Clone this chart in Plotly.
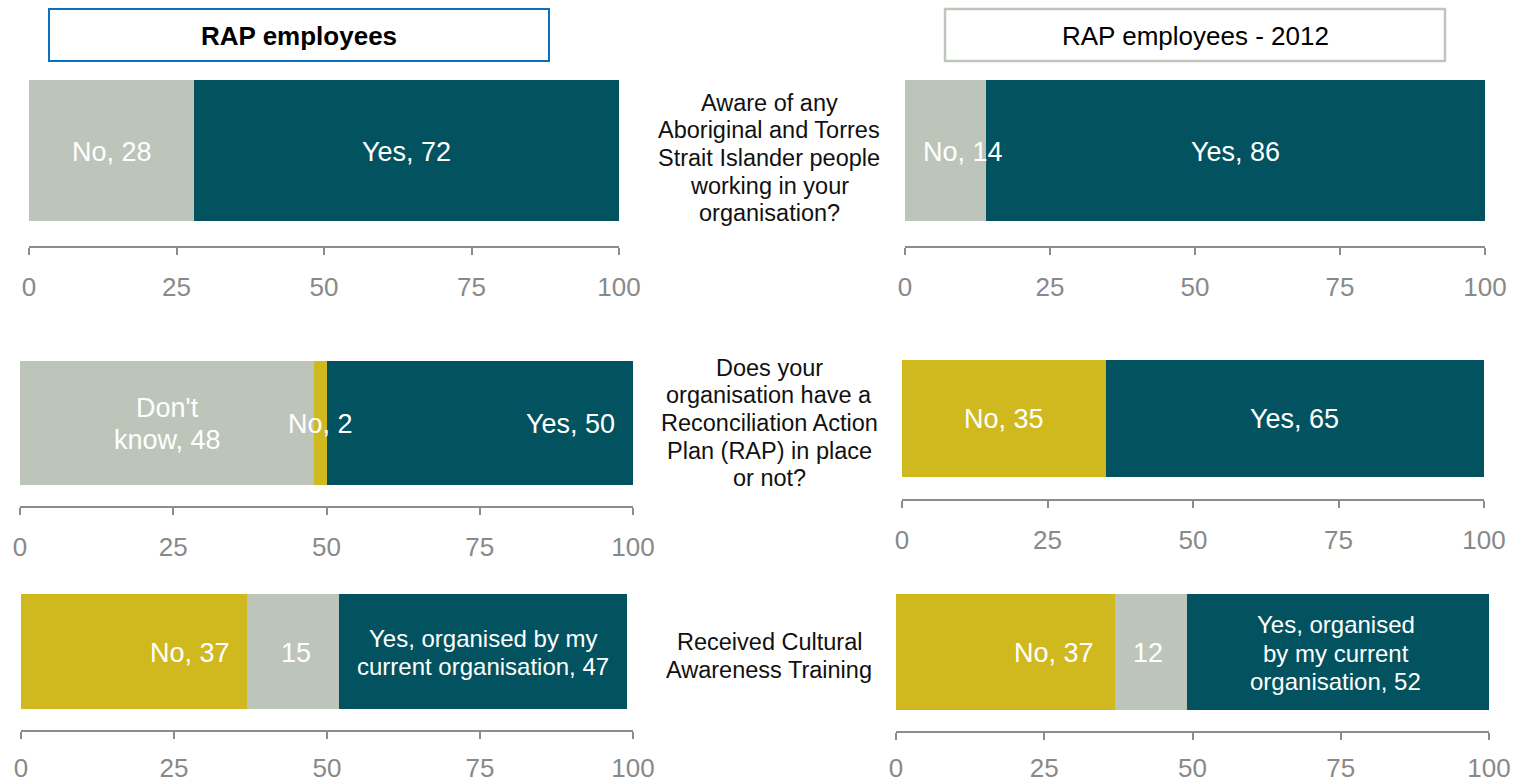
import plotly.graph_objects as go

W, H = 1522, 784
FONT = "Liberation Sans, Arial, Helvetica, sans-serif"
GRAY = "#BDC5BB"
TEAL = "#02535F"
GOLD = "#D0B91F"
AXIS = "#8C8C8C"
TICK_TEXT = "#898989"

# ---- data -------------------------------------------------------------
panel_titles = ["RAP employees", "RAP employees - 2012"]

questions = [
    "Aware of any\nAboriginal and Torres\nStrait Islander people\nworking in your\norganisation?",
    "Does your\norganisation have a\nReconciliation Action\nPlan (RAP) in place\nor not?",
    "Received Cultural\nAwareness Training",
]

tick_values = [0, 25, 50, 75, 100]

aware_current = [28, 72]
aware_2012 = [14, 86]
aware_names = ["No", "Yes"]

rap_current = [48, 2, 50]
rap_current_names = ["Don't\nknow", "No", "Yes"]
rap_2012 = [35, 65]
rap_2012_names = ["No", "Yes"]

training_current = [37, 15, 47]
training_current_names = ["No", "", "Yes, organised by my\ncurrent organisation"]
training_2012 = [37, 12, 52]
training_2012_names = ["No", "", "Yes, organised\nby my current\norganisation"]

# ---- panel styling ----------------------------------------------------
# pixel geometry: left, right, bar top, bar bottom, axis line
panels = [
    dict(values=aware_current, names=aware_names, colors=[GRAY, TEAL],
         geo=(29, 619, 80, 221, 246), standoff=10,
         place=[("mid", 0), ("mid", 0)], sizes=[27, 27]),
    dict(values=aware_2012, names=aware_names, colors=[GRAY, TEAL],
         geo=(905, 1485, 80, 221, 246), standoff=10,
         place=[("mid", 17), ("mid", 0)], sizes=[27, 27]),
    dict(values=rap_current, names=rap_current_names, colors=[GRAY, GOLD, TEAL],
         geo=(20, 633, 361, 485, 506), standoff=10,
         place=[("mid", 0), ("mid", 0), ("end", -16)], sizes=[27, 27, 27]),
    dict(values=rap_2012, names=rap_2012_names, colors=[GOLD, TEAL],
         geo=(902, 1484, 360, 477, 499), standoff=10,
         place=[("mid", 0), ("mid", 0)], sizes=[27, 27]),
    dict(values=training_current, names=training_current_names, colors=[GOLD, GRAY, TEAL],
         geo=(21, 633, 594, 709, 730), standoff=7,
         place=[("end", -15), ("mid", 3), ("mid", 0)], sizes=[27, 27, 24]),
    dict(values=training_2012, names=training_2012_names, colors=[GOLD, GRAY, TEAL],
         geo=(896, 1489, 594, 710, 731), standoff=6,
         place=[("end", -19), ("mid", -3), ("mid", -2)], sizes=[27, 27, 24]),
]

LINE_FACTOR = 1.18
TEXT_DROP = 1  # nudges text boxes down so glyphs sit centred


def px_x(x):
    return x / W


def px_y(y):
    return 1 - y / H


fig = go.Figure()
annotations = []


def add_text_lines(text, x, y, xref, yref, size, color, xanchor="center",
                   xshift=0, bold=False):
    lines = text.split("\n")
    gap = size * LINE_FACTOR
    n = len(lines)
    for k, line in enumerate(lines):
        annotations.append(dict(
            text=f"<b>{line}</b>" if bold else line,
            x=x, y=y, xref=xref, yref=yref,
            xanchor=xanchor, yanchor="middle",
            xshift=xshift, yshift=((n - 1) / 2 - k) * gap - TEXT_DROP,
            showarrow=False,
            font=dict(family=FONT, size=size, color=color),
        ))


for i, p in enumerate(panels):
    suffix = "" if i == 0 else str(i + 1)
    xa, ya = "x" + suffix, "y" + suffix
    left, right, top, bar_bottom, axis_y = p["geo"]
    bar_h = bar_bottom - top
    lo = -0.5 - (axis_y - bar_bottom) / bar_h

    base = 0
    for v, name, col, (mode, shift), fs in zip(p["values"], p["names"], p["colors"],
                                               p["place"], p["sizes"]):
        fig.add_trace(go.Bar(
            x=[v], y=[0], base=[base], orientation="h", width=1,
            marker=dict(color=col, line=dict(width=0)),
            xaxis=xa, yaxis=ya, showlegend=False, hoverinfo="skip",
        ))
        label = f"{name}, {v}" if name else str(v)
        seg_end = min(base + v, 100)
        if mode == "mid":
            add_text_lines(label, (base + seg_end) / 2, 0, xa, ya, fs, "white",
                           "center", shift)
        else:
            add_text_lines(label, seg_end, 0, xa, ya, fs, "white", "right", shift)
        base += v

    fig.layout["xaxis" + suffix] = dict(
        domain=[px_x(left), px_x(right)], range=[0, 100], anchor=ya,
        tickvals=tick_values, ticktext=[str(t) for t in tick_values],
        ticks="outside", ticklen=7, tickwidth=2, tickcolor=AXIS,
        showline=True, linecolor=AXIS, linewidth=2,
        showgrid=False, zeroline=False, fixedrange=True, automargin=False,
        tickfont=dict(family=FONT, size=26, color=TICK_TEXT),
        ticklabelstandoff=p["standoff"],
    )
    fig.layout["yaxis" + suffix] = dict(
        domain=[px_y(axis_y), px_y(top)], range=[lo, 0.5], anchor=xa,
        visible=False, fixedrange=True, automargin=False,
    )

# question text in the centre column
for q, cy in zip(questions, [157, 422, 655]):
    add_text_lines(q, px_x(769), px_y(cy), "paper", "paper", 23.5, "#111111")

# panel title boxes
shapes = [
    dict(type="rect", xref="paper", yref="paper",
         x0=px_x(49), x1=px_x(549), y0=px_y(61), y1=px_y(9),
         line=dict(color="#0A70C0", width=2), fillcolor="white"),
    dict(type="rect", xref="paper", yref="paper",
         x0=px_x(945), x1=px_x(1445), y0=px_y(61), y1=px_y(9),
         line=dict(color="#BEC5BA", width=2.5), fillcolor="white"),
]
add_text_lines(panel_titles[0], px_x(299), px_y(35), "paper", "paper", 26,
               "black", bold=True)
add_text_lines(panel_titles[1], px_x(1195), px_y(35), "paper", "paper", 26,
               "black")

fig.update_layout(
    width=W, height=H,
    margin=dict(l=0, r=0, t=0, b=0, autoexpand=False),
    paper_bgcolor="white", plot_bgcolor="white",
    barmode="overlay", bargap=0,
    annotations=annotations, shapes=shapes,
    font=dict(family=FONT),
)

fig.write_html("out.html", config={"displayModeBar": False})
